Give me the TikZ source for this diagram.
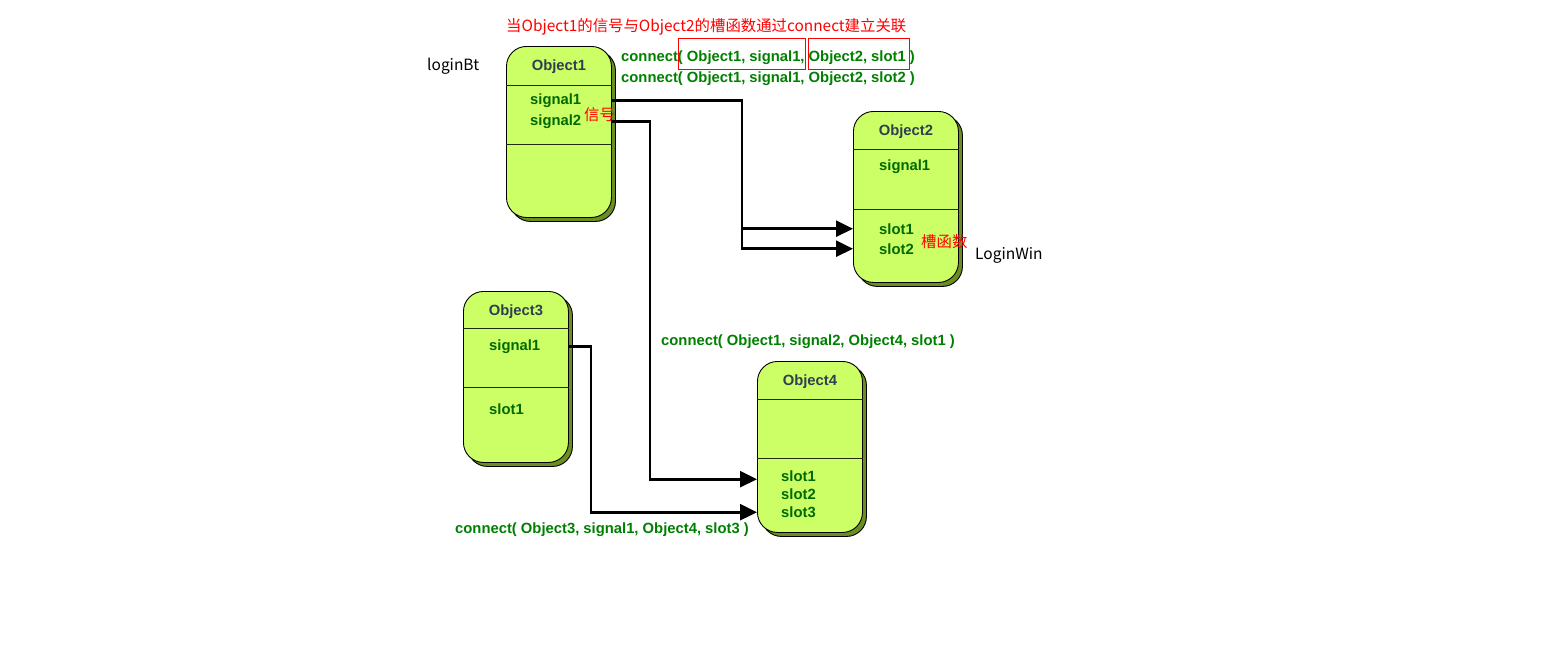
\documentclass[tikz,border=0pt]{standalone}
\usepackage{fontspec}
\setmainfont{Liberation Sans}
\newfontfamily\cjk{Noto Sans CJK SC}
\usetikzlibrary
  {
    positioning,
    arrows.meta,
    shadows,
  }
\definecolor{objfill}{HTML}{CCFF66}
\definecolor{objshade}{HTML}{6B8E23}
\definecolor{codegreen}{HTML}{008000}
\definecolor{membergreen}{HTML}{006A00}
\definecolor{titlegray}{HTML}{2F3F4F}
\newcommand\codesize{\fontsize{14.8}{17}\selectfont}
\tikzset
  {
    >={Triangle[length=17pt,width=16pt]},
    object/.style=
      {
        draw,
        line width=.9pt,
        fill=objfill,
        rounded corners=20pt,
        minimum width=105pt,
        minimum height=171pt,
        anchor=north west,
        drop shadow={shadow xshift=4pt,shadow yshift=-4pt,fill=objshade,draw=black,opacity=1},
      },
    divider/.style={draw=black!70!objshade, line width=.9pt},
    object title/.style=
      {
        anchor=base,
        inner sep=0pt,
        text=titlegray,
        font=\codesize\bfseries,
      },
    member/.style=
      {
        anchor=base west,
        inner sep=0pt,
        text=membergreen,
        font=\codesize\bfseries,
      },
    code/.style=
      {
        anchor=base west,
        inner sep=0pt,
        text=codegreen,
        font=\codesize\bfseries,
      },
    note/.style=
      {
        anchor=base west,
        inner sep=0pt,
        text=red,
        font=\cjk\fontsize{15.4}{18}\selectfont,
      },
    plain/.style=
      {
        anchor=base west,
        inner sep=0pt,
        font=\cjk\fontsize{15.5}{18}\selectfont,
      },
    wire/.style={->, line width=2.6pt},
    red box/.style={draw=red, line width=.8pt},
  }
\begin{document}
\begin{tikzpicture}[x=1pt, y=-1pt]
  \useasboundingbox (0,0) rectangle (1560,654);

  % objects
  \node[object] (o1) at (506,46) {};
  \node[object] (o2) at (853,111) {};
  \node[object] (o3) at (463,291) {};
  \node[object] (o4) at (757,361) {};

  \draw[divider] (o1.west |- 0,85) -- (o1.east |- 0,85);
  \draw[divider] (o1.west |- 0,144) -- (o1.east |- 0,144);
  \draw[divider] (o2.west |- 0,149) -- (o2.east |- 0,149);
  \draw[divider] (o2.west |- 0,209) -- (o2.east |- 0,209);
  \draw[divider] (o3.west |- 0,328) -- (o3.east |- 0,328);
  \draw[divider] (o3.west |- 0,387) -- (o3.east |- 0,387);
  \draw[divider] (o4.west |- 0,399) -- (o4.east |- 0,399);
  \draw[divider] (o4.west |- 0,458) -- (o4.east |- 0,458);

  \node[object title] at (o1.north |- 0,70) {Object1};
  \node[object title] at (o2.north |- 0,135.5) {Object2};
  \node[object title] at (o3.north |- 0,315.5) {Object3};
  \node[object title] at (o4.north |- 0,385.5) {Object4};

  % members
  \node[member] (o1s1) at (530,104.5) {signal1};
  \node[member] (o1s2) at (530,125.5) {signal2};
  \node[member] (o2s1) at (879,170) {signal1};
  \node[member] (o2t1) at (879,234) {slot1};
  \node[member] (o2t2) at (879,254) {slot2};
  \node[member] (o3s1) at (489,350) {signal1};
  \node[member] (o3t1) at (489,414) {slot1};
  \node[member] (o4t1) at (781,481.5) {slot1};
  \node[member] (o4t2) at (781,499.5) {slot2};
  \node[member] (o4t3) at (781,517.5) {slot3};

  % notes
  \node[note] (headline) at (506,31.5)
    {当Object1的信号与Object2的槽函数通过connect建立关联};
  \node[plain] (login bt) at (427,70.5) {loginBt};
  \node[plain] (login win) at (975,259) {LoginWin};
  \node[note] (signal note) at (584,120) {信号};
  \node[note] (slot note) at (921,247.5) {槽函数};

  \node[code] (c1) at (621,61.3) {connect( Object1, signal1, Object2, slot1 )};
  \node[code, below=21.4pt of c1.base west, anchor=base west] (c2)
    {connect( Object1, signal1, Object2, slot2 )};
  \node[code] (c3) at (661,345) {connect( Object1, signal2, Object4, slot1 )};
  \node[code] (c4) at (455,533.3) {connect( Object3, signal1, Object4, slot3 )};

  \draw[red box] (678,38) rectangle (805,69);
  \draw[red box] (808,38) rectangle (909,69);

  % connections
  \coordinate (bend a) at (742,100);
  \coordinate (bend b) at (650,121);
  \coordinate (bend c) at (591,346);

  \draw[wire] (o1.east |- o1s1) -| (bend a |- o2t2) -- (o2.west |- o2t2);
  \draw[wire] (bend a |- o2t1) -- (o2.west |- o2t1);
  \draw[wire] (o1.east |- o1s2) -| ([yshift=-3pt] bend b |- o4t1)
    -- ([yshift=-3pt] o4.west |- o4t1);
  \draw[wire] (o3.east |- o3s1) -| (bend c |- o4t3) -- (o4.west |- o4t3);
\end{tikzpicture}
\end{document}
